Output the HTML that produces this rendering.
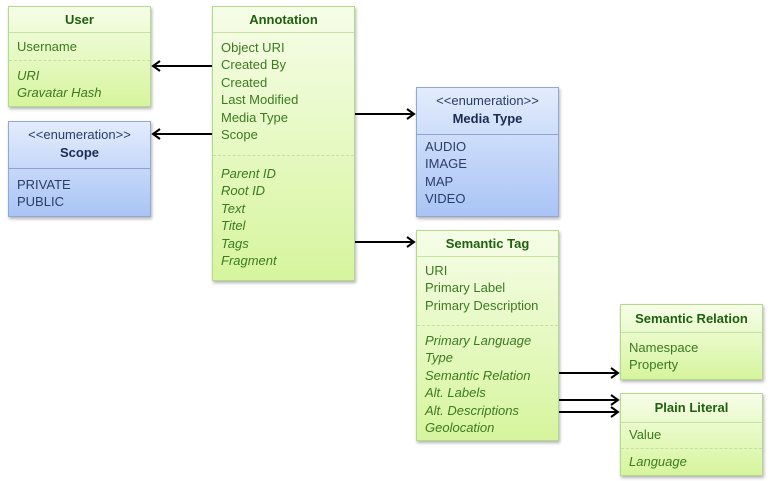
<!DOCTYPE html>
<html><head><meta charset="utf-8">
<style>
html,body{margin:0;padding:0;background:#fff;width:770px;height:481px;overflow:hidden;position:relative;font-family:"Liberation Sans",sans-serif;}
.box{position:absolute;box-sizing:border-box;border:1px solid #b5d98a;box-shadow:1px 2px 3px rgba(0,0,0,0.3);background:linear-gradient(#f6fde8,#d6f59d);}
.blue{border-color:#8fa9d4;background:linear-gradient(#e3ecfd,#a9c4f5);}
.hl{position:absolute;left:0;right:0;border-top:1px solid #c6e29f;}
.blue .hl{border-top-color:#8aa3cf;}
.dl{position:absolute;left:0;right:0;border-top:1px dashed #c8dea7;}
.t{position:absolute;font-size:13px;line-height:17.4px;color:#3c7a20;white-space:nowrap;}
.c{left:0;right:0;text-align:center;}
.b{font-weight:bold;color:#1f6010;}
.i{font-style:italic;}
.blue .t{color:#2a3d66;}
.blue .b{color:#1c2c50;}
svg{position:absolute;left:0;top:0;}
</style></head><body>

<div class="box" style="left:8px;top:6px;width:143px;height:101px;">
<div class="t c b" style="top:4px;">User</div>
<div class="hl" style="top:25px;"></div>
<div class="t" style="left:8px;top:31px;">Username</div>
<div class="dl" style="top:53px;"></div>
<div class="t i" style="left:8px;top:60px;">URI<br>Gravatar Hash</div>
</div>

<div class="box blue" style="left:8px;top:121px;width:143px;height:96px;">
<div class="t c" style="top:4px;">&lt;&lt;enumeration&gt;&gt;</div>
<div class="t c b" style="top:22px;">Scope</div>
<div class="hl" style="top:46px;"></div>
<div class="t" style="left:8px;top:54px;">PRIVATE<br>PUBLIC</div>
</div>

<div class="box" style="left:212px;top:6px;width:143px;height:275px;">
<div class="t c b" style="top:4px;">Annotation</div>
<div class="hl" style="top:25px;"></div>
<div class="t" style="left:8px;top:32px;">Object URI<br>Created By<br>Created<br>Last Modified<br>Media Type<br>Scope</div>
<div class="dl" style="top:148px;"></div>
<div class="t i" style="left:8px;top:158px;">Parent ID<br>Root ID<br>Text<br>Titel<br>Tags<br>Fragment</div>
</div>

<div class="box blue" style="left:416px;top:87px;width:143px;height:130px;">
<div class="t c" style="top:4px;">&lt;&lt;enumeration&gt;&gt;</div>
<div class="t c b" style="top:22px;">Media Type</div>
<div class="hl" style="top:46px;"></div>
<div class="t" style="left:8px;top:50px;">AUDIO<br>IMAGE<br>MAP<br>VIDEO</div>
</div>

<div class="box" style="left:416px;top:230px;width:143px;height:211px;">
<div class="t c b" style="top:4px;">Semantic Tag</div>
<div class="hl" style="top:25px;"></div>
<div class="t" style="left:8px;top:31px;">URI<br>Primary Label<br>Primary Description</div>
<div class="dl" style="top:94px;"></div>
<div class="t i" style="left:8px;top:101px;">Primary Language<br>Type<br>Semantic Relation<br>Alt. Labels<br>Alt. Descriptions<br>Geolocation</div>
</div>

<div class="box" style="left:620px;top:304px;width:143px;height:76px;">
<div class="t c b" style="top:5px;">Semantic Relation</div>
<div class="hl" style="top:27px;"></div>
<div class="t" style="left:8px;top:34px;">Namespace<br>Property</div>
</div>

<div class="box" style="left:620px;top:393px;width:143px;height:83px;">
<div class="t c b" style="top:5px;">Plain Literal</div>
<div class="hl" style="top:28px;"></div>
<div class="t" style="left:8px;top:32px;">Value</div>
<div class="dl" style="top:54px;"></div>
<div class="t i" style="left:8px;top:59px;">Language</div>
</div>

<svg width="770" height="481">
<g stroke="#000" stroke-width="2" fill="none">
<line x1="212" y1="66" x2="153" y2="66"/><polyline points="160,61 153,66 160,71"/>
<line x1="212" y1="134" x2="153" y2="134"/><polyline points="160,129 153,134 160,139"/>
<line x1="355" y1="114" x2="414" y2="114"/><polyline points="407,109 414,114 407,119"/>
<line x1="355" y1="242" x2="414" y2="242"/><polyline points="407,237 414,242 407,247"/>
<line x1="559" y1="373" x2="618" y2="373"/><polyline points="611,368 618,373 611,378"/>
<line x1="559" y1="400" x2="618" y2="400"/><polyline points="611,395 618,400 611,405"/>
<line x1="559" y1="412" x2="618" y2="412"/><polyline points="611,407 618,412 611,417"/>
</g>
</svg>
</body></html>
